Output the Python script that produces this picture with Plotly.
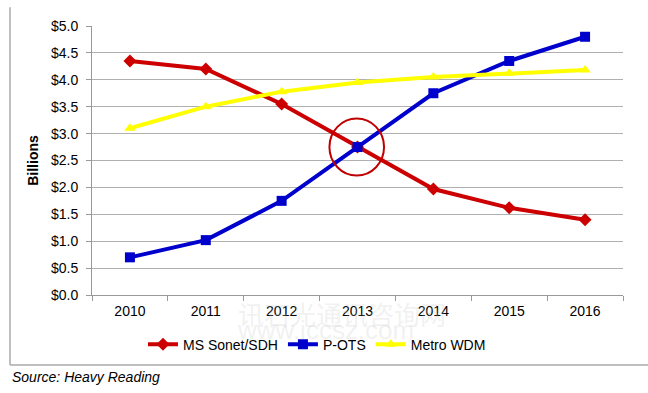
import plotly.graph_objects as go

years = ["2010", "2011", "2012", "2013", "2014", "2015", "2016"]
ms_sonet = [4.35, 4.20, 3.55, 2.75, 1.97, 1.62, 1.40]
p_ots = [0.70, 1.02, 1.75, 2.75, 3.75, 4.35, 4.80]
metro_wdm = [3.10, 3.50, 3.78, 3.95, 4.05, 4.12, 4.18]

fig = go.Figure()
fig.add_trace(go.Scatter(x=years, y=ms_sonet, name="MS Sonet/SDH", mode="lines+markers",
                         line=dict(color="#cc0000", width=4),
                         marker=dict(symbol="diamond", size=10, color="#cc0000")))
fig.add_trace(go.Scatter(x=years, y=p_ots, name="P-OTS", mode="lines+markers",
                         line=dict(color="#0000cc", width=4),
                         marker=dict(symbol="square", size=10, color="#0000cc")))
fig.add_trace(go.Scatter(x=years, y=metro_wdm, name="Metro WDM", mode="lines+markers",
                         line=dict(color="#ffff00", width=4),
                         marker=dict(symbol="triangle-up", size=10, color="#ffff00")))

# highlight circle around crossover (2013)
ci = years.index("2013")
cy = p_ots[ci]
fig.add_shape(type="circle", xref="x", yref="y",
              x0=ci - 0.37, x1=ci + 0.35, y0=cy - 0.53, y1=cy + 0.53,
              line=dict(color="#c00000", width=2))

# frame lines
fx = -82 / 531
fy = -70 / 269
fig.add_shape(type="line", xref="paper", yref="paper", x0=fx, x1=fx,
              y0=fy, y1=1.07, line=dict(color="#aaaaaa", width=1.5))
fig.add_shape(type="line", xref="paper", yref="paper", x0=fx, x1=1.05,
              y0=fy, y1=fy, line=dict(color="#aaaaaa", width=1.5))

fig.add_annotation(text="Source: Heavy Reading", xref="paper", yref="paper",
                   x=fx, y=-72 / 269, xanchor="left", yanchor="top", showarrow=False,
                   font=dict(family="Liberation Sans, Arial", size=14, color="black", style="italic"))
fig.add_annotation(text="讯石光通讯咨询网", xref="paper", yref="paper",
                   x=(342 - 92) / 531, y=-18 / 269, xanchor="center", yanchor="middle", showarrow=False,
                   font=dict(family="Noto Sans CJK SC", size=26, color="rgba(200,200,200,0.25)"))
fig.add_annotation(text="www.iccsz.com", xref="paper", yref="paper",
                   x=(325 - 92) / 531, y=-35 / 269, xanchor="center", yanchor="middle", showarrow=False,
                   font=dict(family="Liberation Sans, Arial", size=26, color="rgba(200,200,200,0.25)"))

fig.update_layout(
    width=648, height=393,
    margin=dict(l=92, r=25, t=26, b=98),
    paper_bgcolor="white", plot_bgcolor="white",
    font=dict(family="Liberation Sans, Arial", size=14, color="black"),
    showlegend=True,
    legend=dict(orientation="h", x=(317 - 92) / 531, xanchor="center", y=-0.125, yanchor="top",
                font=dict(size=14), itemwidth=30, tracegroupgap=0),
    xaxis=dict(type="category", range=[-0.5, 6.5], showgrid=False, showline=True,
               linecolor="#999999", linewidth=1, ticks="outside", tickson="boundaries",
               ticklen=5, tickcolor="#999999", zeroline=False, ticklabelstandoff=3),
    yaxis=dict(range=[0, 5], dtick=0.5, tickprefix="$", tickformat=".1f",
               showgrid=True, gridcolor="#b0b0b0", gridwidth=1,
               showline=True, linecolor="#999999", linewidth=1,
               ticks="outside", ticklen=5, tickcolor="#999999", zeroline=False,
               ticklabelstandoff=5,
               title=dict(text="<b>Billions</b>", standoff=9, font=dict(size=14))),
)

fig.write_html("out.html", config={"displayModeBar": False},
               post_script="document.body.style.margin='0';")
